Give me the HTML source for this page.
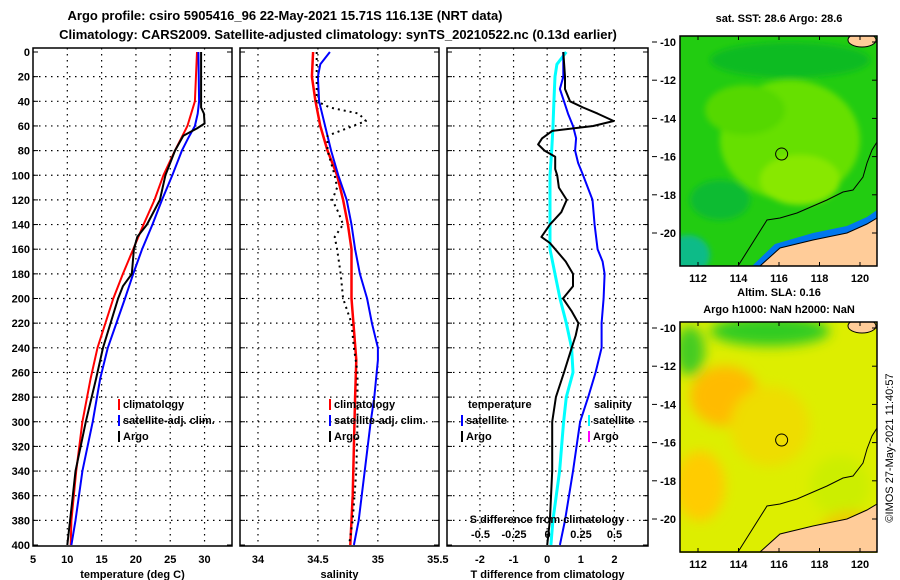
<!DOCTYPE html>
<html><head><meta charset="utf-8">
<style>
body{margin:0;background:#fff;}
svg{display:block;font-family:"Liberation Sans",sans-serif;font-weight:bold;}
</style></head>
<body>
<svg id="fig" width="900" height="580" viewBox="0 0 900 580">
<defs>
<filter id="blur4"><feGaussianBlur stdDeviation="6"/></filter>
<filter id="blur2"><feGaussianBlur stdDeviation="3"/></filter>
<clipPath id="clipTop"><rect x="680" y="36" width="197" height="230"/></clipPath>
<clipPath id="clipBot"><rect x="680" y="322" width="197" height="231"/></clipPath>
</defs>
<text x="285" y="20" font-size="13" text-anchor="middle">Argo profile: csiro 5905416_96 22-May-2021 15.71S 116.13E (NRT data)</text>
<text x="338" y="39" font-size="13" text-anchor="middle">Climatology: CARS2009. Satellite-adjusted climatology: synTS_20210522.nc (0.13d earlier)</text>
<g id="panels"></g>
<g id="maps"></g>
<text transform="translate(893,448) rotate(-90)" font-size="11" font-weight="normal" text-anchor="middle">©IMOS 27-May-2021 11:40:57</text>
</svg>
<script>
// ---- data ----
const depthTicks = [0,20,40,60,80,100,120,140,160,180,200,220,240,260,280,300,320,340,360,380,400];
const tempTicks = [5,10,15,20,25,30];
const salTicks = [34,34.5,35,35.5];
const salTickLabels = ["34","34.5","35","35.5"];
const tdiffTicks = [-2,-1,0,1,2];
const sdiffTicks = [-0.5,-0.25,0,0.25,0.5];
const sdiffLabels = ["-0.5","-0.25","0","0.25","0.5"];

const tClimDepth = [0,40,60,80,100,120,140,160,180,200,240,265,300,340,380,400];
const tClimVal   = [28.9,28.6,27.5,25.7,24.0,22.7,21.1,19.6,18.1,16.7,14.4,13.4,12.2,11.3,10.6,10.5];
const tSatDepth  = [0,40,50,60,70,80,100,120,140,160,180,200,240,265,300,340,380,400];
const tSatVal    = [29.1,29.2,29.0,28.6,27.6,26.7,25.3,23.8,22.4,20.9,19.6,18.4,15.9,14.8,13.7,12.2,11.2,10.6];
const tArgoDepth = [0,45,50,58,62,68,80,100,120,140,150,160,180,190,200,240,265,300,340,380,400];
const tArgoVal   = [29.5,29.5,29.9,30.0,28.9,26.9,25.7,24.3,23.5,21.6,20.2,19.7,19.4,18.1,17.4,15.2,14.2,12.7,11.2,10.4,10.0];

const sClimDepth = [0,20,40,60,80,100,120,140,160,200,250,280,320,360,400];
const sClimVal   = [34.46,34.45,34.48,34.52,34.58,34.66,34.71,34.75,34.78,34.78,34.82,34.81,34.80,34.79,34.77];
const sSatDepth  = [0,10,20,40,60,80,100,120,140,160,180,200,220,240,250,280,300,340,380,400];
const sSatVal    = [34.60,34.52,34.50,34.51,34.56,34.61,34.67,34.74,34.78,34.81,34.85,34.91,34.95,35.0,35.0,34.97,34.94,34.89,34.84,34.80];
const sArgoDepth = [0,40,45,50,56,62,68,80,100,110,120,130,140,150,160,180,200,220,240,260,300,340,380,400];
const sArgoVal   = [34.49,34.49,34.60,34.84,34.90,34.74,34.58,34.58,34.64,34.66,34.62,34.67,34.71,34.64,34.66,34.69,34.71,34.78,34.80,34.83,34.83,34.82,34.79,34.76];

const dTArgoDepth = [0,20,30,40,45,50,56,60,64,70,75,80,85,95,100,110,120,130,140,150,155,160,170,180,190,200,210,220,230,240,260,280,300,340,380,400];
const dTArgoVal   = [0.48,0.53,0.53,0.68,1.07,1.5,1.98,1.37,0.15,-0.15,-0.27,-0.08,0.24,0.24,0.3,0.35,0.58,0.42,0.08,-0.17,0.08,0.24,0.55,0.77,0.77,0.47,0.72,0.93,0.85,0.73,0.5,0.26,0.15,0.15,0.08,0.0];
const dTSatDepth  = [0,20,30,40,50,60,70,80,90,100,120,140,160,170,180,200,220,240,260,280,300,340,380,400];
const dTSatVal    = [0.48,0.48,0.38,0.50,0.62,0.77,0.86,0.83,0.92,1.07,1.35,1.41,1.5,1.65,1.71,1.68,1.62,1.62,1.44,1.22,0.98,0.77,0.53,0.38];
const dSSatDepth  = [0,10,20,40,60,80,100,140,160,180,200,220,240,260,280,300,340,380,400];
const dSSatVal    = [0.14,0.07,0.056,0.048,0.041,0.031,0.019,0.019,0.019,0.056,0.093,0.14,0.18,0.19,0.14,0.12,0.09,0.04,0.025];

// ---- helpers ----
const NS="http://www.w3.org/2000/svg";
function mk(tag,attrs,parent){const e=document.createElementNS(NS,tag);for(const k in attrs)e.setAttribute(k,attrs[k]);parent.appendChild(e);return e;}
const top0=48, bot0=546;
function yDepth(d){return 52+d*(545-52)/400;}
const panels=document.getElementById('panels');

function makePanel(x0,x1,vmin,vmax,ticks,labels,xlabel,name,drawYLabels){
  const g=mk('g',{},panels);
  
  
  const sx=v=>x0+(v-vmin)*(x1-x0)/(vmax-vmin);
  depthTicks.forEach((d,i)=>{
    const y=yDepth(d);
    if(i>0&&i<depthTicks.length-1){const l=mk('line',{x1:x0,x2:x1,y1:y,y2:y,stroke:'#000','stroke-width':1.2,'stroke-dasharray':'1.5,4.5'},g);
      
      }
    const t1=mk('line',{x1:x0,x2:x0+5,y1:y,y2:y,stroke:'#000'},g);
    
    
    const t2=mk('line',{x1:x1-5,x2:x1,y1:y,y2:y,stroke:'#000'},g);
    
    
    if(drawYLabels){const t=mk('text',{x:x0-3,y:y+4,'font-size':11,'text-anchor':'end'},g);t.textContent=d;
      
      }
  });
  ticks.forEach((v,i)=>{
    const x=sx(v);
    if(x>x0+2&&x<x1-2){const l=mk('line',{x1:x,x2:x,y1:top0,y2:bot0,stroke:'#000','stroke-width':1.2,'stroke-dasharray':'1.5,4.5'},g);
      
      }
    const t=mk('text',{x:x,y:563,'font-size':11,'text-anchor':'middle'},g);t.textContent=labels[i];
    
    
  });
  const fr=mk('rect',{x:x0,y:top0,width:x1-x0,height:bot0-top0,fill:'none',stroke:'#000','stroke-width':1.5},g);
  
  
  const xl=mk('text',{x:(x0+x1)/2,y:578,'font-size':11,'text-anchor':'middle'},g);xl.textContent=xlabel;
  
  
  return {g,sx};
}
function series(p,depths,vals,color,w,dash,name,sxOverride){
  const sx=sxOverride||p.sx;
  const pts=depths.map((d,i)=>sx(vals[i]).toFixed(1)+','+yDepth(d).toFixed(1)).join(' ');
  const a={points:pts,fill:'none',stroke:color,'stroke-width':w,'stroke-linejoin':'round'};
  if(dash)a['stroke-dasharray']=dash;
  const pl=mk('polyline',a,p.g);
  
  
}
function legend(g,x,y,color,label){
  const r=mk('rect',{x:x,y:y-9,width:2,height:11,fill:color},g);
  
  
  const t=mk('text',{x:x+5,y:y,'font-size':11},g);t.textContent=label;
  
  
}

const p1=makePanel(33,232,5,34,tempTicks,tempTicks.map(String),'temperature (deg C)','temperature-panel',true);
series(p1,tClimDepth,tClimVal,'#f00',2,null,'temp-climatology-line');
series(p1,tSatDepth,tSatVal,'#00f',2,null,'temp-satellite-line');
series(p1,tArgoDepth,tArgoVal,'#000',2,null,'temp-argo-line');
legend(p1.g,118,408,'#f00','climatology');
legend(p1.g,118,424,'#00f','satellite-adj. clim.');
legend(p1.g,118,440,'#000','Argo');

const p2=makePanel(240,439,33.85,35.51,salTicks,salTickLabels,'salinity','salinity-panel',false);
series(p2,sClimDepth,sClimVal,'#f00',2.5,null,'sal-climatology-line');
series(p2,sSatDepth,sSatVal,'#00f',2,null,'sal-satellite-line');
series(p2,sArgoDepth,sArgoVal,'#000',2,'2,4','sal-argo-line');
legend(p2.g,329,408,'#f00','climatology');
legend(p2.g,329,424,'#00f','satellite-adj. clim.');
legend(p2.g,329,440,'#000','Argo');

const p3=makePanel(447,648,-2.98,3.0,tdiffTicks,tdiffTicks.map(String),'T difference from climatology','difference-panel',false);
const sxS=v=>547.5+v*134;
series(p3,dSSatDepth,dSSatVal,'#0ff',3,null,'sdiff-satellite-line',sxS);
series(p3,dTSatDepth,dTSatVal,'#00f',2,null,'tdiff-satellite-line');
series(p3,dTArgoDepth,dTArgoVal,'#000',2,null,'tdiff-argo-line');
sdiffTicks.forEach((v,i)=>{const t=mk('text',{x:sxS(v),y:538,'font-size':11,'text-anchor':'middle'},p3.g);t.textContent=sdiffLabels[i];
  
  });
{const t=mk('text',{x:547,y:523,'font-size':11,'text-anchor':'middle'},p3.g);t.textContent='S difference from climatology';
  
  }
{const t=mk('text',{x:468,y:408,'font-size':11},p3.g);t.textContent='temperature';
  
  
 const s=mk('text',{x:594,y:408,'font-size':11},p3.g);s.textContent='salinity';
  
  }
legend(p3.g,461,424,'#00f','satellite');
legend(p3.g,461,440,'#000','Argo');
legend(p3.g,588,424,'#0ff','satellite');
legend(p3.g,588,440,'#f0f','Argo');

// ---- maps ----
const maps=document.getElementById('maps');
function lonX(l){return 698+(l-112)*20.25;}
function drawMap(oy,kind,name,title1,title2){
  const g=mk('g',{},maps);
  
  
  const c=mk('g',{'clip-path':kind==='sst'?'url(#clipTop)':'url(#clipBot)'},g);
  const Y=y=>y+oy;
  if(kind==='sst'){
    mk('rect',{x:680,y:Y(36),width:197,height:230,fill:'#22cc11'},c);
    const b=mk('g',{filter:'url(#blur2)'},c);
    mk('ellipse',{cx:790,cy:Y(140),rx:70,ry:60,fill:'#66e000'},b);
    mk('ellipse',{cx:800,cy:Y(180),rx:40,ry:25,fill:'#88e800'},b);
    mk('ellipse',{cx:745,cy:Y(110),rx:40,ry:25,fill:'#55d800'},b);
    mk('ellipse',{cx:790,cy:Y(60),rx:80,ry:18,fill:'#11bb22'},b);
    mk('ellipse',{cx:688,cy:Y(255),rx:22,ry:20,fill:'#11bb88'},b);
    mk('ellipse',{cx:720,cy:Y(200),rx:30,ry:20,fill:'#11bb33'},b);
    mk('polygon',{points:`752,${Y(266)} 775,${Y(244)} 813,${Y(233)} 847,${Y(226)} 867,${Y(217)} 880,${Y(208)} 880,${Y(230)} 760,${Y(266)}`,fill:'#0077ee'},c);
  } else {
    mk('rect',{x:680,y:Y(36),width:197,height:231,fill:'#ddee00'},c);
    const b=mk('g',{filter:'url(#blur4)'},c);
    mk('ellipse',{cx:725,cy:Y(110),rx:35,ry:30,fill:'#ffbb00'},b);
    mk('ellipse',{cx:700,cy:Y(200),rx:25,ry:35,fill:'#ffcc00'},b);
    mk('ellipse',{cx:770,cy:Y(140),rx:40,ry:40,fill:'#eedd00'},b);
    mk('ellipse',{cx:770,cy:Y(45),rx:60,ry:15,fill:'#33cc22'},b);
    mk('ellipse',{cx:690,cy:Y(65),rx:15,ry:25,fill:'#44cc22'},b);
    mk('ellipse',{cx:840,cy:Y(200),rx:30,ry:30,fill:'#ccee00'},b);
    mk('ellipse',{cx:850,cy:Y(245),rx:30,ry:20,fill:'#eecc00'},b);
  }
  mk('polygon',{points:`760,${Y(266)} 780,${Y(248)} 813,${Y(240)} 847,${Y(233)} 867,${Y(224)} 877,${Y(218)} 877,${Y(266)}`,fill:'#ffcc99'},c);
  mk('ellipse',{cx:862,cy:Y(40),rx:14,ry:7,fill:'#ffcc99',stroke:'#000','stroke-width':1},c);
  mk('polyline',{points:`738,${Y(266)} 767,${Y(220)} 780,${Y(218)} 797,${Y(213)} 827,${Y(200)} 843,${Y(192)} 853,${Y(190)} 863,${Y(177)} 867,${Y(163)} 872,${Y(150)} 877,${Y(142)}`,fill:'none',stroke:'#000','stroke-width':1},c);
  mk('polyline',{points:`760,${Y(266)} 780,${Y(248)} 813,${Y(240)} 847,${Y(233)} 867,${Y(224)} 877,${Y(218)}`,fill:'none',stroke:'#000','stroke-width':1},c);
  const circ=mk('circle',{cx:lonX(116.13),cy:Y(36)+( -9.53+15.71)*19.1,r:6,fill:'none',stroke:'#000','stroke-width':1},g);
  
  
  const fr=mk('rect',{x:680,y:Y(36),width:197,height:230,fill:'none',stroke:'#000','stroke-width':1.5},g);
  
  
  [112,114,116,118,120].forEach(l=>{
    const x=lonX(l);
    mk('line',{x1:x,x2:x,y1:Y(36),y2:Y(40),stroke:'#000'},g);
    mk('line',{x1:x,x2:x,y1:Y(262),y2:Y(266),stroke:'#000'},g);
    const t=mk('text',{x:x,y:Y(282),'font-size':11,'text-anchor':'middle'},g);t.textContent=l;
    
    
  });
  [-10,-12,-14,-16,-18,-20].forEach(la=>{
    const y=Y(42)+(-10-la)*19.1;
    mk('line',{x1:872,x2:877,y1:y,y2:y,stroke:'#000'},g);
    mk('line',{x1:652,x2:657,y1:y,y2:y,stroke:'#000'},g);
    const t=mk('text',{x:676,y:y+4,'font-size':11,'text-anchor':'end'},g);t.textContent=la;
    
    
  });
  const t1=mk('text',{x:779,y:oy===0?22:296,'font-size':11,'text-anchor':'middle'},g);t1.textContent=title1;
  
  
  if(title2){const t2=mk('text',{x:779,y:313,'font-size':11,'text-anchor':'middle'},g);t2.textContent=title2;
    
    }
}
drawMap(0,'sst','sst-map','sat. SST: 28.6 Argo: 28.6',null);
drawMap(286,'sla','sla-map','Altim. SLA: 0.16','Argo h1000: NaN h2000: NaN');
</script>
</body></html>
